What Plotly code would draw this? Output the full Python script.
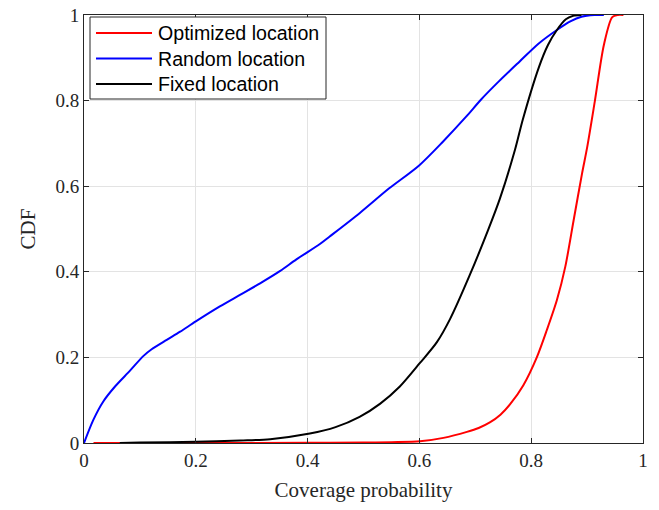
import plotly.graph_objects as go

# Random location
rand_x = [0, 0.0167, 0.0345, 0.0555, 0.0823, 0.106, 0.121, 0.148, 0.172, 0.2, 0.243, 0.279, 0.315, 0.351,
          0.38, 0.422, 0.439, 0.493, 0.546, 0.599, 0.642, 0.684, 0.71, 0.743, 0.779, 0.814, 0.846, 0.87,
          0.89, 0.913, 0.93]
rand_y = [0, 0.054, 0.097, 0.132, 0.169, 0.203, 0.219, 0.241, 0.26, 0.284, 0.319, 0.346, 0.373, 0.402,
          0.429, 0.465, 0.482, 0.537, 0.595, 0.648, 0.704, 0.763, 0.802, 0.846, 0.891, 0.934, 0.965, 0.985,
          0.996, 1.0, 1.0]

# Fixed location
fix_x = [0.064, 0.1, 0.2, 0.28, 0.333, 0.404, 0.45, 0.493, 0.53, 0.565, 0.601, 0.631, 0.655, 0.69, 0.723,
         0.744, 0.771, 0.785, 0.814, 0.83, 0.846, 0.862, 0.875, 0.89]
fix_y = [0, 0.001, 0.003, 0.006, 0.009, 0.022, 0.037, 0.061, 0.092, 0.132, 0.187, 0.235, 0.29, 0.392, 0.498,
         0.571, 0.685, 0.756, 0.879, 0.93, 0.965, 0.99, 0.998, 1.0]

# Optimized location
opt_x = [0.017, 0.2, 0.4, 0.5, 0.55, 0.601, 0.643, 0.685, 0.706, 0.726, 0.745, 0.762, 0.786, 0.81, 0.828,
         0.846, 0.861, 0.876, 0.891, 0.9, 0.914, 0.93, 0.945, 0.955, 0.965]
opt_y = [0, 0, 0.0005, 0.001, 0.002, 0.004, 0.012, 0.026, 0.035, 0.048, 0.066, 0.09, 0.135, 0.2, 0.264,
         0.334, 0.412, 0.521, 0.63, 0.69, 0.80, 0.93, 0.995, 1.0, 1.0]

series_names = ["Optimized location", "Random location", "Fixed location"]
series_colors = ["#ff0000", "#0000ff", "#000000"]

tick_vals = [0, 0.2, 0.4, 0.6, 0.8, 1]
tick_text = ["0", "0.2", "0.4", "0.6", "0.8", "1"]

fig = go.Figure()
for xs, ys, name, col in zip([opt_x, rand_x, fix_x], [opt_y, rand_y, fix_y], series_names, series_colors):
    fig.add_trace(go.Scatter(x=xs, y=ys, mode="lines", name=name, showlegend=False,
                             line=dict(color=col, width=2, shape="spline", smoothing=0.8)))

# Manual legend (MATLAB style: long sample lines), positioned in paper coordinates
W, H = 659, 510
ml, mr, mt, mb = 84, 16, 15, 67
pw, ph = W - ml - mr, H - mt - mb


def px2paper(px, py):
    return (px - ml) / pw, (H - mb - py) / ph


bx0, by0 = px2paper(90, 17)
bx1, by1 = px2paper(326, 99)
fig.add_shape(type="rect", xref="paper", yref="paper", x0=bx0, y0=by1, x1=bx1, y1=by0,
              line=dict(color="#262626", width=1), fillcolor="white", layer="above")
row_y = [33, 58.5, 84]
for ry, name, col in zip(row_y, series_names, series_colors):
    lx0, ly = px2paper(96, ry)
    lx1, _ = px2paper(152, ry)
    fig.add_shape(type="line", xref="paper", yref="paper", x0=lx0, x1=lx1, y0=ly, y1=ly,
                  line=dict(color=col, width=2), layer="above")
    tx, _ = px2paper(156, ry)
    fig.add_annotation(xref="paper", yref="paper", x=tx, y=ly, text=name, showarrow=False,
                       xanchor="left", yanchor="middle", xshift=0,
                       font=dict(family="Liberation Sans, Arial, sans-serif", size=19.6, color="#000000"))

serif = "Liberation Serif, Times New Roman, serif"
axis_common = dict(
    range=[0, 1], tickvals=tick_vals, ticktext=tick_text,
    showgrid=True, gridcolor="#e3e3e3", gridwidth=1,
    showline=True, linecolor="#262626", linewidth=1, mirror="ticks",
    ticks="inside", ticklen=5, tickcolor="#262626",
    zeroline=False, automargin=False,
    tickfont=dict(family=serif, size=19, color="#262626"),
)
fig.update_layout(
    width=W, height=H,
    margin=dict(l=ml, r=mr, t=mt, b=mb),
    plot_bgcolor="white", paper_bgcolor="white",
    xaxis=dict(**axis_common, title=dict(text="Coverage probability",
                                         font=dict(family=serif, size=21, color="#262626"), standoff=12)),
    yaxis=dict(**axis_common, title=dict(text="CDF",
                                         font=dict(family=serif, size=21, color="#262626"), standoff=14)),
    showlegend=False,
)
fig.write_html("out.html")
